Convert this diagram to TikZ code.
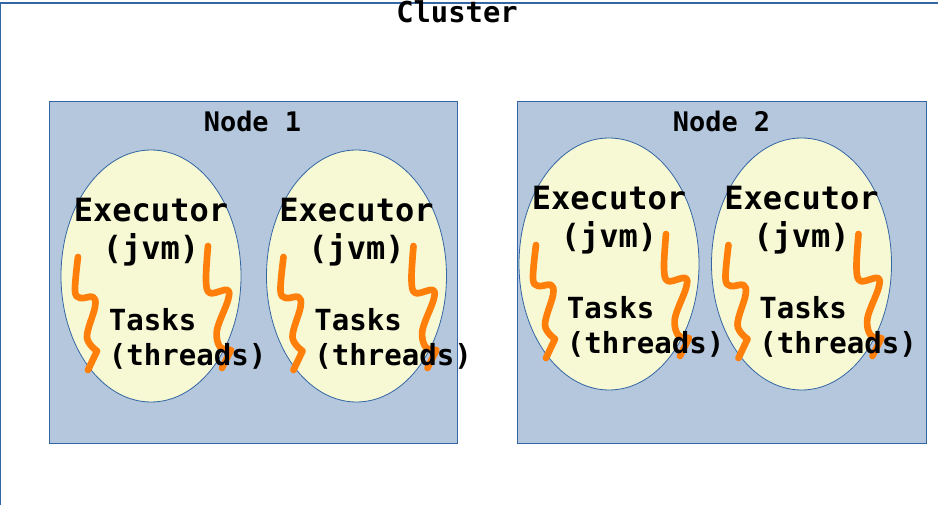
\documentclass[tikz,border=0pt]{standalone}
\usepackage{fontspec}
\setmonofont{DejaVu Sans Mono}
\usetikzlibrary{shapes.geometric}
\definecolor{edgeblue}{HTML}{3465A4}
\definecolor{nodeblue}{HTML}{B4C7DC}
\definecolor{execyellow}{HTML}{F6F9D4}
\definecolor{threadorange}{HTML}{FF7F0A}
\tikzset{
  machine/.style={draw=edgeblue,fill=nodeblue,line width=0.8pt,rectangle,minimum width=306.5pt,minimum height=257pt,inner sep=0pt},
  executor/.style={draw=edgeblue,fill=execyellow,line width=0.6pt,ellipse,minimum width=135pt,minimum height=189pt,inner sep=0pt},
  thread/.style={draw=threadorange,line width=5pt,line cap=round,line join=round},
  exectext/.style={font=\ttfamily\bfseries\fontsize{24}{28.5}\selectfont,align=center,inner sep=0pt},
  tasktext/.style={font=\ttfamily\bfseries\fontsize{21.8}{26.5}\selectfont,align=left,inner sep=0pt},
  title/.style={font=\ttfamily\bfseries\fontsize{20.2}{24}\selectfont,inner sep=0pt},
}
\begin{document}
\begin{tikzpicture}[x=0.75pt,y=-0.75pt]

    \useasboundingbox (0,0) rectangle (938,505);
    \draw[edgeblue,line width=1pt] (0.5,3) rectangle (945,510);
    \node[font=\ttfamily\bfseries\fontsize{21.6}{26}\selectfont,inner sep=0pt] (cluster) at (457,12) {Cluster};

    \node[machine] (node1) at (253.5,272.5) {};
    \node[machine] (node2) at (721.8,272.5) {};
    \node[title] (node1title) at (252.5,121.5) {Node 1};
    \node[title] (node2title) at (721.5,121.5) {Node 2};

    % one executor with its two threads, placed from the middle of the ellipse
    \foreach \n/\cx/\cy in {1/151/276,2/356.5/276,3/609/264,4/801.5/264}{
      \begin{scope}[shift={(\cx,\cy)}]
        \node[executor] (exec\n) at (0,0) {};
        \draw[thread] plot[smooth,tension=0.6] coordinates {(-73,-19) (-76,14) (-71,22) (-58,21) (-56,31) (-64,61) (-54,75)} -- (-63,94);
        \draw[thread] plot[smooth,tension=0.6] coordinates {(57,-30) (55,4) (59,17) (76,14) (77,24) (66,54) (69,71) (80,74)} -- (71,92);
        \node[exectext] (exec\n text) at (0,-43.5) {Executor\\(jvm)};
        \node[tasktext,anchor=west] (task\n text) at (-42.5,63) {Tasks\\(threads)};
      \end{scope}
    }

\end{tikzpicture}
\end{document}
